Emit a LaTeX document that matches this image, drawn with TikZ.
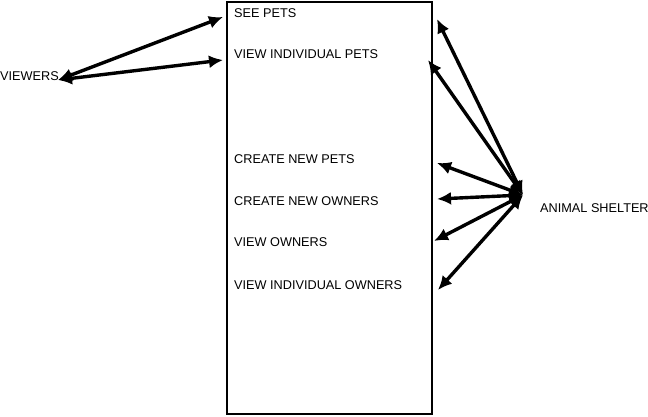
\documentclass[tikz,border=0pt]{standalone}
\usepackage{fontspec}
\setmainfont{Liberation Sans}
\usetikzlibrary{arrows.meta}
\tikzset{
  pfeil/.style={{Latex[length=14pt,width=13pt]}-{Latex[length=14pt,width=13pt]},line width=3.4pt},
  kasten/.style={draw,line width=1.8pt},
  eintrag/.style={anchor=west,inner sep=0pt,font=\fontsize{12.7}{15}\selectfont},
}
\begin{document}
\begin{tikzpicture}[x=1pt,y=-1pt]
  \useasboundingbox (0,0) rectangle (648,417);
  % system box
  \draw[kasten] (227,2) rectangle (432,414);
  \node[eintrag] (seepets) at (234,13) {SEE PETS};
  \node[eintrag] (viewpets) at (234,54) {VIEW INDIVIDUAL PETS};
  \node[eintrag] (newpets) at (234,159) {CREATE NEW PETS};
  \node[eintrag] (newowners) at (234,201) {CREATE NEW OWNERS};
  \node[eintrag] (viewowners) at (234,242) {VIEW OWNERS};
  \node[eintrag] (viewindowners) at (234,285) {VIEW INDIVIDUAL OWNERS};
  % actors
  \node[eintrag] (viewers) at (0,76) {VIEWERS};
  \node[eintrag] (shelter) at (540,208) {ANIMAL SHELTER};
  \coordinate (v) at (58,80);
  \coordinate (hub) at (523,195);
  % connector ends at the box
  \coordinate (l1) at (223,17);
  \coordinate (l2) at (223,60);
  \coordinate (r1) at (437,19);
  \coordinate (r2) at (428,60);
  \coordinate (r3) at (437,163);
  \coordinate (r4) at (437,199);
  \coordinate (r5) at (434,241);
  \coordinate (r6) at (438,290);
  \draw[pfeil] (v) -- (l1);
  \draw[pfeil] (v) -- (l2);
  \foreach \e in {r1,r2,r3,r4,r5,r6}
    \draw[pfeil] (hub) -- (\e);
\end{tikzpicture}
\end{document}
